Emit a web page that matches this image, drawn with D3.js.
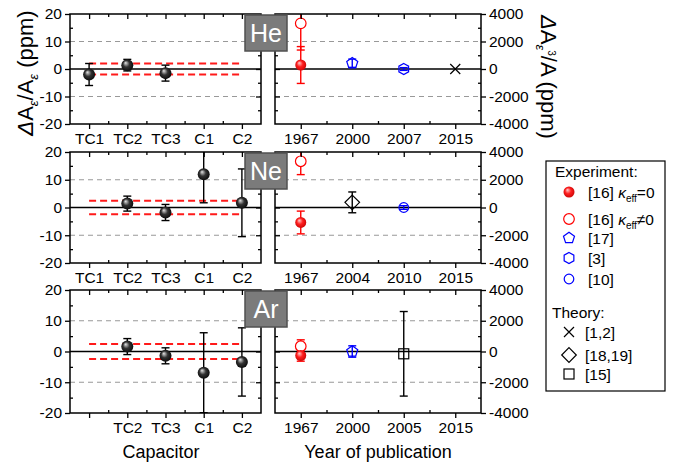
<!DOCTYPE html>
<html>
<head>
<script src="https://d3js.org/d3.v7.min.js" charset="utf-8"></script>
<style>
  body { margin: 0; background: #fff; }
  text { font-family: Arial, "Liberation Sans", sans-serif; }
</style>
</head>
<body>
<script>
// ---- data ----
var gases = ["He", "Ne", "Ar"];
var heCapTicks = ["TC1", "TC2", "TC3", "C1", "C2"];
var neCapTicks = ["TC1", "TC2", "TC3", "C1", "C2"];
var arCapTicks = ["", "TC2", "TC3", "C1", "C2"];

var heCapVal = [-2.0, 1.4, -1.5, null, null];
var heCapErr = [4.0, 2.1, 2.9, null, null];
var neCapVal = [null, 1.4, -1.8, 12.0, 1.7];
var neCapErr = [null, 2.7, 2.9, 10.3, 12.2];
var arCapVal = [null, 1.6, -1.4, -6.9, -3.4];
var arCapErr = [null, 2.6, 2.6, 13.0, 11.1];

var capBand = [2.0, 2.4, 2.4];   // red dashed band, ppm (He, Ne, Ar)

var heYears = ["1967", "2000", "2007", "2015"];
var neYears = ["1967", "2004", "2010", "2015"];
var arYears = ["1967", "2000", "2005", "2015"];

var heRefs = [
  {year: "1967", ref: "k1", v: 3320, e: 1940},
  {year: "1967", ref: "k0", v: 290, e: 1340},
  {year: "2000", ref: "r17", v: 420, e: 300},
  {year: "2007", ref: "r3", v: 0, e: 100},
  {year: "2015", ref: "t12", v: 0, e: 0}
];
var neRefs = [
  {year: "1967", ref: "k1", v: 3330, e: 960},
  {year: "1967", ref: "k0", v: -1080, e: 820},
  {year: "2004", ref: "t1819", v: 370, e: 750},
  {year: "2010", ref: "r10", v: 0, e: 130}
];
var arRefs = [
  {year: "1967", ref: "k1", v: 340, e: 420},
  {year: "1967", ref: "k0", v: -260, e: 370},
  {year: "2000", ref: "r17", v: 0, e: 370},
  {year: "2005", ref: "t15", v: -150, e: 2750}
];

var expLegend = ["k0", "k1", "r17", "r3", "r10"];
var theoryLegend = ["t12", "t1819", "t15"];
var refLabels = {k0: "[16]", k1: "[16]", r17: "[17]", r3: "[3]", r10: "[10]",
                 t12: "[1,2]", t1819: "[18,19]", t15: "[15]"};

// ---- styles ----
var refStyle = {
  k0: {shape: "sphere", color: "#ff0000", grad: "gRed"},
  k1: {shape: "circle", color: "#ff0000", fill: "#fff"},
  r17: {shape: "pentagon", color: "#0000ff"},
  r3: {shape: "hexagon", color: "#0000ff"},
  r10: {shape: "circle", color: "#0000ff", fill: "none", r: 4.8},
  t12: {shape: "x", color: "#000"},
  t1819: {shape: "diamond", color: "#000"},
  t15: {shape: "square", color: "#000"}
};

var W = 678, H = 463;
var svg = d3.select("body").append("svg").attr("width", W).attr("height", H);

var defs = svg.append("defs");
function sphereGrad(id, c0, c1, c2) {
  var g = defs.append("radialGradient").attr("id", id)
    .attr("cx", "0.5").attr("cy", "0.5").attr("r", "0.6")
    .attr("fx", "0.35").attr("fy", "0.3");
  g.append("stop").attr("offset", "0").attr("stop-color", c0);
  g.append("stop").attr("offset", "0.45").attr("stop-color", c1);
  g.append("stop").attr("offset", "1").attr("stop-color", c2);
}
sphereGrad("gBlack", "#e6e6e6", "#333", "#000");
sphereGrad("gRed", "#ffd0d0", "#ff2020", "#c00000");

function polygon(n, r, start) {
  var pts = d3.range(n).map(function (i) {
    var a = start + i * 2 * Math.PI / n;
    return [r * Math.cos(a), r * Math.sin(a)];
  });
  return "M" + pts.join("L") + "Z";
}

function marker(g, key, x, y) {
  var s = refStyle[key];
  var m = g.append("g").attr("transform", "translate(" + x + "," + y + ")");
  if (s.shape == "sphere") {
    m.append("circle").attr("r", 5.5).attr("fill", "url(#" + s.grad + ")");
  } else if (s.shape == "circle") {
    m.append("circle").attr("r", s.r || 5.3).attr("fill", s.fill)
      .attr("stroke", s.color).attr("stroke-width", 1.2);
  } else if (s.shape == "pentagon") {
    m.append("path").attr("d", polygon(5, 5.8, -Math.PI / 2)).attr("fill", "none")
      .attr("stroke", s.color).attr("stroke-width", 1.2);
  } else if (s.shape == "hexagon") {
    m.append("path").attr("d", polygon(6, 5.6, -Math.PI / 2)).attr("fill", "none")
      .attr("stroke", s.color).attr("stroke-width", 1.2);
  } else if (s.shape == "diamond") {
    m.append("path").attr("d", polygon(4, 7.3, -Math.PI / 2)).attr("fill", "none")
      .attr("stroke", s.color).attr("stroke-width", 1.2);
  } else if (s.shape == "square") {
    m.append("rect").attr("x", -5).attr("y", -5).attr("width", 10).attr("height", 10)
      .attr("fill", "none").attr("stroke", s.color).attr("stroke-width", 1.2);
  } else if (s.shape == "x") {
    m.append("path").attr("d", "M-5,-5L5,5M-5,5L5,-5").attr("stroke", s.color)
      .attr("stroke-width", 1.2);
  }
}

function errBar(g, x, y0, y1, color) {
  g.append("line").attr("x1", x).attr("x2", x).attr("y1", y0).attr("y2", y1)
    .attr("stroke", color).attr("stroke-width", 1.4);
  [y0, y1].forEach(function (y) {
    g.append("line").attr("x1", x - 4).attr("x2", x + 4).attr("y1", y).attr("y2", y)
      .attr("stroke", color).attr("stroke-width", 1.4);
  });
}

function addAxis(g, axis, tx, ty, labels) {
  var a = g.append("g").attr("transform", "translate(" + tx + "," + ty + ")").call(axis);
  a.select(".domain").remove();
  a.selectAll("line").attr("stroke", "#000").attr("stroke-width", 1.3);
  a.selectAll("text").attr("font-size", 15.5).attr("fill", "#000")
    .attr("font-family", "Arial, 'Liberation Sans', sans-serif");
  if (!labels) a.selectAll("text").remove();
}

var panelTop = [14, 152, 290], panelBottom = [124, 263, 413];
var capTicksAll = [heCapTicks, neCapTicks, arCapTicks];
var capValAll = [heCapVal, neCapVal, arCapVal];
var capErrAll = [heCapErr, neCapErr, arCapErr];
var yearsAll = [heYears, neYears, arYears];
var refsAll = [heRefs, neRefs, arRefs];

var L0 = 70, L1 = 261, R0 = 275, R1 = 481;

gases.forEach(function (gas, i) {
  var top = panelTop[i], bot = panelBottom[i];
  var g = svg.append("g");
  var xL = d3.scaleLinear().domain([0.5, 5.5]).range([L0, L1]);
  var yL = d3.scaleLinear().domain([-20, 20]).range([bot, top]);
  var xR = d3.scaleLinear().domain([0.5, 4.5]).range([R0, R1]);
  var yR = d3.scaleLinear().domain([-4000, 4000]).range([bot, top]);
  var years = yearsAll[i];

  defs.append("clipPath").attr("id", "cl" + i).append("rect")
    .attr("x", L0).attr("y", top).attr("width", L1 - L0).attr("height", bot - top);
  defs.append("clipPath").attr("id", "cr" + i).append("rect")
    .attr("x", R0).attr("y", top).attr("width", R1 - R0).attr("height", bot - top);

  // grid lines
  [-10, 10].forEach(function (v) {
    g.append("line").attr("x1", L0).attr("x2", L1).attr("y1", yL(v)).attr("y2", yL(v))
      .attr("stroke", "#999").attr("stroke-dasharray", "5,4").attr("stroke-width", 1.1);
  });
  [-2000, 2000].forEach(function (v) {
    g.append("line").attr("x1", R0).attr("x2", R1).attr("y1", yR(v)).attr("y2", yR(v))
      .attr("stroke", "#999").attr("stroke-dasharray", "5,4").attr("stroke-width", 1.1);
  });
  g.append("line").attr("x1", L0).attr("x2", L1).attr("y1", yL(0)).attr("y2", yL(0))
    .attr("stroke", "#000").attr("stroke-width", 1.5);
  g.append("line").attr("x1", R0).attr("x2", R1).attr("y1", yR(0)).attr("y2", yR(0))
    .attr("stroke", "#000").attr("stroke-width", 1.5);
  [-capBand[i], capBand[i]].forEach(function (v) {
    g.append("line").attr("x1", xL(1)).attr("x2", xL(5)).attr("y1", yL(v)).attr("y2", yL(v))
      .attr("stroke", "#ff1a1a").attr("stroke-dasharray", "7,4").attr("stroke-width", 2);
  });

  // capacitor points
  var gl = g.append("g").attr("clip-path", "url(#cl" + i + ")");
  capValAll[i].forEach(function (v, k) {
    if (v == null) return;
    var e = capErrAll[i][k];
    errBar(gl, xL(k + 1), yL(v + e), yL(v - e), "#000");
  });
  capValAll[i].forEach(function (v, k) {
    if (v == null) return;
    gl.append("circle").attr("cx", xL(k + 1)).attr("cy", yL(v)).attr("r", 6)
      .attr("fill", "url(#gBlack)");
  });

  // literature points
  var gr = g.append("g").attr("clip-path", "url(#cr" + i + ")");
  refsAll[i].forEach(function (d) {
    if (d.e > 0) errBar(gr, xR(years.indexOf(d.year) + 1), yR(d.v + d.e), yR(d.v - d.e), refStyle[d.ref].color);
  });
  refsAll[i].forEach(function (d) {
    marker(gr, d.ref, xR(years.indexOf(d.year) + 1), yR(d.v));
  });

  // frames
  g.append("rect").attr("x", L0).attr("y", top).attr("width", L1 - L0).attr("height", bot - top)
    .attr("fill", "none").attr("stroke", "#000").attr("stroke-width", 1.5);
  g.append("rect").attr("x", R0).attr("y", top).attr("width", R1 - R0).attr("height", bot - top)
    .attr("fill", "none").attr("stroke", "#000").attr("stroke-width", 1.5);

  // axes, left panel
  var capTicks = capTicksAll[i];
  addAxis(g, d3.axisBottom(xL).tickValues([1, 2, 3, 4, 5]).tickSize(5).tickPadding(4)
    .tickFormat(function (d) { return capTicks[d - 1]; }), 0, bot, true);
  addAxis(g, d3.axisBottom(xL).tickValues([1.5, 2.5, 3.5, 4.5]).tickSize(-3), 0, bot, false);
  addAxis(g, d3.axisTop(xL).tickValues([1, 2, 3, 4, 5]).tickSize(-5), 0, top, false);
  addAxis(g, d3.axisTop(xL).tickValues([1.5, 2.5, 3.5, 4.5]).tickSize(-3), 0, top, false);
  addAxis(g, d3.axisLeft(yL).tickValues([-20, -10, 0, 10, 20]).tickSize(5).tickPadding(3)
    .tickFormat(function (d) { return String(d); }), L0, 0, true);
  addAxis(g, d3.axisLeft(yL).tickValues([-15, -5, 5, 15]).tickSize(-3), L0, 0, false);
  addAxis(g, d3.axisRight(yL).tickValues([-10, 0, 10]).tickSize(-5), L1, 0, false);
  addAxis(g, d3.axisRight(yL).tickValues([-15, -5, 5, 15]).tickSize(-3), L1, 0, false);

  // axes, right panel
  addAxis(g, d3.axisBottom(xR).tickValues([1, 2, 3, 4]).tickSize(5).tickPadding(4)
    .tickFormat(function (d) { return years[d - 1]; }), 0, bot, true);
  addAxis(g, d3.axisBottom(xR).tickValues([1.5, 2.5, 3.5]).tickSize(-3), 0, bot, false);
  addAxis(g, d3.axisTop(xR).tickValues([1, 2, 3, 4]).tickSize(-5), 0, top, false);
  addAxis(g, d3.axisTop(xR).tickValues([1.5, 2.5, 3.5]).tickSize(-3), 0, top, false);
  addAxis(g, d3.axisLeft(yR).tickValues([-2000, 0, 2000]).tickSize(-5), R0, 0, false);
  addAxis(g, d3.axisLeft(yR).tickValues([-3000, -1000, 1000, 3000]).tickSize(-3), R0, 0, false);
  addAxis(g, d3.axisRight(yR).tickValues([-4000, -2000, 0, 2000, 4000]).tickSize(5).tickPadding(3)
    .tickFormat(function (d) { return String(d); }), R1, 0, true);
  addAxis(g, d3.axisRight(yR).tickValues([-3000, -1000, 1000, 3000]).tickSize(-3), R1, 0, false);

  // gas label box
  g.append("rect").attr("x", 245).attr("y", top + 1).attr("width", 42).attr("height", 36)
    .attr("fill", "#7b7b7b").attr("stroke", "#505050").attr("stroke-width", 1.5);
  g.append("text").attr("x", 266).attr("y", top + 28).attr("text-anchor", "middle")
    .attr("font-size", 25).attr("fill", "#fff").text(gas);
});

// axis titles
svg.append("text").attr("x", 161).attr("y", 458).attr("text-anchor", "middle")
  .attr("font-size", 18).text("Capacitor");
svg.append("text").attr("x", 378).attr("y", 458).attr("text-anchor", "middle")
  .attr("font-size", 18).text("Year of publication");

var yl = svg.append("text").attr("transform", "translate(33,73) rotate(-90)")
  .attr("text-anchor", "middle").attr("font-size", 22);
yl.append("tspan").attr("font-style", "italic").text("Δ");
yl.append("tspan").text("A");
yl.append("tspan").attr("font-size", 13).attr("font-style", "italic").attr("dy", 5).text("ε");
yl.append("tspan").attr("dy", -5).text("/A");
yl.append("tspan").attr("font-size", 13).attr("font-style", "italic").attr("dy", 5).text("ε");
yl.append("tspan").attr("dy", -5).text(" (ppm)");

var yr = svg.append("text").attr("transform", "translate(541,77) rotate(90)")
  .attr("text-anchor", "middle").attr("font-size", 22);
yr.append("tspan").attr("font-style", "italic").text("Δ");
yr.append("tspan").text("A");
yr.append("tspan").attr("font-size", 13).attr("font-style", "italic").attr("dy", 5).text("ε");
yr.append("tspan").attr("font-size", 10).attr("dy", -12).text("3");
yr.append("tspan").attr("dy", 7).text("/A (ppm)");

// legend
var lg = svg.append("g");
lg.append("rect").attr("x", 546).attr("y", 161).attr("width", 119).attr("height", 230)
  .attr("fill", "#fff").attr("stroke", "#000").attr("stroke-width", 1.2);
lg.append("text").attr("x", 555).attr("y", 177).attr("font-size", 15.5).text("Experiment:");
var expY = [192, 219, 238, 258, 279];
expLegend.forEach(function (key, k) {
  marker(lg, key, 569, expY[k]);
  var t = lg.append("text").attr("x", 588).attr("y", expY[k] + 5.5).attr("font-size", 15.5);
  t.append("tspan").text(refLabels[key] + " ");
  if (key == "k0" || key == "k1") {
    t.append("tspan").attr("font-style", "italic").text("κ");
    t.append("tspan").attr("font-size", 10).attr("dy", 4).text("eff");
    t.append("tspan").attr("dy", -4).text(key == "k0" ? "=0" : "≠0");
  }
});
lg.append("text").attr("x", 552).attr("y", 318).attr("font-size", 15.5).text("Theory:");
var thY = [332, 355, 374];
theoryLegend.forEach(function (key, k) {
  marker(lg, key, 569, thY[k]);
  lg.append("text").attr("x", 585).attr("y", thY[k] + 5.5).attr("font-size", 15.5)
    .text(refLabels[key]);
});
</script>
</body>
</html>
